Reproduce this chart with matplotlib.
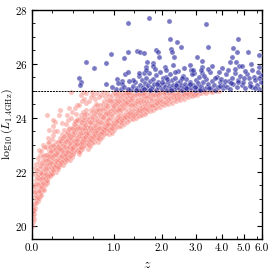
import numpy as np
import matplotlib
matplotlib.use('Agg')
import matplotlib.pyplot as plt
from matplotlib.ticker import MultipleLocator, FixedLocator

plt.rcParams['font.family'] = 'serif'
plt.rcParams['font.serif'] = ['cmr10']
plt.rcParams['mathtext.fontset'] = 'cm'
plt.rcParams['axes.formatter.use_mathtext'] = True

CUT = 25.0
Z_TICKS = [0, 1, 2, 3, 4, 5, 6]
Z_LABELS = ['0.0', '1.0', '2.0', '3.0', '4.0', '5.0', '6.0']

# sources below the luminosity cut (z, log10 L)
red = [
    (0.006, 19.98), (0.010, 20.15), (0.013, 20.35), (0.016, 20.55), (0.009, 20.7), (0.018, 20.25),
    (0.022, 20.45), (0.025, 20.8), (0.028, 21.05), (0.031, 20.65), (0.034, 21.3), (0.024, 21.5),
    (0.036, 21.7), (0.03, 21.9), (0.027, 22.15), (0.04, 22.3), (0.042, 20.95), (0.038, 21.15),
    (0.033, 21.45), (0.044, 21.8),
    (0.05, 21.0), (0.055, 21.2), (0.06, 20.9), (0.065, 21.4), (0.07, 21.6), (0.075, 21.3),
    (0.052, 21.75), (0.058, 21.9), (0.063, 22.1), (0.068, 22.35), (0.072, 21.85), (0.078, 22.6),
    (0.054, 22.5), (0.066, 22.8), (0.076, 21.1), (0.08, 21.5),
    (0.085, 21.25), (0.09, 21.45), (0.095, 21.65), (0.10, 21.35), (0.105, 21.8), (0.11, 21.55),
    (0.115, 21.95), (0.12, 21.7), (0.088, 22.0), (0.093, 22.2), (0.098, 22.45), (0.103, 22.1),
    (0.108, 22.3), (0.113, 22.6), (0.118, 22.15), (0.087, 22.75), (0.1, 23.0), (0.11, 22.9),
    (0.095, 21.9),
    (0.125, 21.5), (0.13, 21.7), (0.135, 21.6), (0.14, 21.85), (0.145, 21.75), (0.15, 22.0),
    (0.155, 21.9), (0.16, 22.1), (0.165, 21.95), (0.128, 22.2), (0.133, 22.4), (0.138, 22.55),
    (0.143, 22.3), (0.148, 22.65), (0.153, 22.5), (0.158, 22.8), (0.163, 22.35), (0.168, 22.7),
    (0.131, 22.9), (0.146, 23.05), (0.152, 23.25), (0.137, 24.1), (0.162, 23.1), (0.124, 22.05),
    (0.16, 23.55),
    (0.172, 21.85), (0.178, 22.0), (0.184, 21.95), (0.19, 22.15), (0.196, 22.05), (0.202, 22.25),
    (0.208, 22.1), (0.214, 22.35), (0.22, 22.2), (0.226, 22.45), (0.175, 22.4), (0.181, 22.6),
    (0.187, 22.5), (0.193, 22.75), (0.199, 22.65), (0.205, 22.9), (0.211, 22.8), (0.217, 23.0),
    (0.223, 22.6), (0.229, 23.1), (0.176, 22.95), (0.188, 23.2), (0.2, 23.35), (0.212, 23.5),
    (0.22, 23.85), (0.195, 23.7), (0.218, 22.45), (0.2, 23.9),
    (0.232, 22.0), (0.24, 22.15), (0.248, 22.1), (0.256, 22.3), (0.264, 22.2), (0.272, 22.4),
    (0.28, 22.3), (0.288, 22.5), (0.296, 22.35), (0.236, 22.45), (0.244, 22.6), (0.252, 22.75),
    (0.26, 22.55), (0.268, 22.85), (0.276, 22.7), (0.284, 22.95), (0.292, 22.8), (0.3, 23.05),
    (0.238, 22.9), (0.25, 23.1), (0.262, 23.0), (0.274, 23.25), (0.286, 23.15), (0.298, 23.4),
    (0.245, 23.5), (0.27, 24.3), (0.29, 23.8), (0.258, 24.1), (0.282, 22.6),
    (0.305, 22.25), (0.315, 22.4), (0.325, 22.35), (0.335, 22.5), (0.345, 22.45), (0.355, 22.6),
    (0.365, 22.5), (0.375, 22.7), (0.31, 22.65), (0.32, 22.8), (0.33, 22.7), (0.34, 22.95),
    (0.35, 22.85), (0.36, 23.05), (0.37, 22.9), (0.38, 23.15), (0.308, 23.0), (0.318, 23.2),
    (0.328, 23.1), (0.338, 23.35), (0.348, 23.25), (0.358, 23.45), (0.368, 23.3), (0.378, 23.6),
    (0.312, 23.55), (0.342, 23.75), (0.362, 23.9), (0.35, 24.1), (0.372, 24.35), (0.352, 22.55),
    (0.385, 22.45), (0.395, 22.6), (0.405, 22.55), (0.415, 22.7), (0.425, 22.65), (0.435, 22.8),
    (0.445, 22.75), (0.455, 22.9), (0.465, 22.8), (0.475, 23.0), (0.39, 22.85), (0.4, 23.0),
    (0.41, 22.95), (0.42, 23.15), (0.43, 23.05), (0.44, 23.25), (0.45, 23.15), (0.46, 23.35),
    (0.47, 23.25), (0.48, 23.45), (0.388, 23.3), (0.398, 23.5), (0.408, 23.4), (0.418, 23.6),
    (0.428, 23.55), (0.438, 23.75), (0.448, 23.65), (0.458, 23.85), (0.468, 23.7), (0.478, 23.95),
    (0.392, 24.0), (0.412, 24.2), (0.442, 24.35), (0.462, 24.15), (0.40, 24.95), (0.472, 24.45),
    (0.49, 22.65), (0.5, 22.8), (0.51, 22.75), (0.52, 22.9), (0.53, 22.85), (0.54, 23.0),
    (0.55, 22.9), (0.56, 23.1), (0.57, 23.0), (0.58, 23.2), (0.59, 23.1), (0.6, 23.25),
    (0.495, 23.05), (0.505, 23.2), (0.515, 23.15), (0.525, 23.35), (0.535, 23.3), (0.545, 23.45),
    (0.555, 23.4), (0.565, 23.55), (0.575, 23.5), (0.585, 23.65), (0.595, 23.6),
    (0.492, 23.5), (0.512, 23.7), (0.532, 23.8), (0.552, 23.75), (0.572, 23.9), (0.592, 24.0),
    (0.502, 23.95), (0.522, 24.1), (0.542, 24.2), (0.562, 24.15), (0.582, 24.3),
    (0.498, 24.45), (0.528, 24.6), (0.558, 24.7), (0.588, 24.55), (0.518, 24.85), (0.548, 24.95),
    (0.578, 24.9),
    (0.61, 22.85), (0.625, 23.0), (0.64, 22.95), (0.655, 23.1), (0.67, 23.05), (0.685, 23.2),
    (0.7, 23.1), (0.715, 23.3), (0.73, 23.2), (0.745, 23.35),
    (0.615, 23.2), (0.63, 23.35), (0.645, 23.3), (0.66, 23.5), (0.675, 23.45), (0.69, 23.6),
    (0.705, 23.5), (0.72, 23.7), (0.735, 23.6), (0.75, 23.8),
    (0.612, 23.55), (0.627, 23.7), (0.642, 23.65), (0.657, 23.85), (0.672, 23.8), (0.687, 24.0),
    (0.702, 23.9), (0.717, 24.1), (0.732, 24.0), (0.747, 24.2),
    (0.618, 23.95), (0.638, 24.15), (0.658, 24.3), (0.678, 24.25), (0.698, 24.4), (0.718, 24.5),
    (0.738, 24.45), (0.622, 24.6), (0.652, 24.75), (0.682, 24.85), (0.712, 24.7), (0.742, 24.9),
    (0.668, 24.95),
    (0.76, 23.1), (0.775, 23.25), (0.79, 23.2), (0.805, 23.35), (0.82, 23.3), (0.835, 23.45),
    (0.85, 23.4), (0.865, 23.55), (0.88, 23.45), (0.895, 23.6), (0.91, 23.55),
    (0.765, 23.45), (0.78, 23.6), (0.795, 23.55), (0.81, 23.7), (0.825, 23.65), (0.84, 23.8),
    (0.855, 23.75), (0.87, 23.9), (0.885, 23.85), (0.9, 24.0), (0.915, 23.9),
    (0.762, 23.8), (0.782, 23.95), (0.802, 24.05), (0.822, 24.0), (0.842, 24.15), (0.862, 24.1),
    (0.882, 24.25), (0.902, 24.2),
    (0.77, 24.3), (0.79, 24.45), (0.81, 24.35), (0.83, 24.5), (0.85, 24.6), (0.87, 24.45),
    (0.89, 24.65), (0.91, 24.55),
    (0.768, 24.75), (0.798, 24.85), (0.828, 24.95), (0.858, 24.8), (0.888, 24.9), (0.918, 24.8),
    (0.93, 23.4), (0.95, 23.5), (0.97, 23.45), (0.99, 23.6), (1.01, 23.55), (1.03, 23.7),
    (1.05, 23.65), (1.07, 23.8), (1.09, 23.7), (1.11, 23.85),
    (0.935, 23.7), (0.955, 23.8), (0.975, 23.75), (0.995, 23.9), (1.015, 23.85), (1.035, 24.0),
    (1.055, 23.95), (1.075, 24.1), (1.095, 24.05), (1.115, 24.2),
    (0.94, 24.0), (0.96, 24.15), (0.98, 24.1), (1.0, 24.25), (1.02, 24.2), (1.04, 24.35),
    (1.06, 24.3), (1.08, 24.45), (1.1, 24.4), (1.12, 24.55),
    (0.945, 24.35), (0.965, 24.5), (0.985, 24.45), (1.005, 24.6), (1.025, 24.55), (1.045, 24.7),
    (1.065, 24.65), (1.085, 24.8), (1.105, 24.75),
    (0.95, 24.7), (0.975, 24.85), (1.0, 24.95), (1.03, 24.9), (1.06, 24.95), (1.09, 24.9),
    (1.13, 23.7), (1.155, 23.8), (1.18, 23.75), (1.205, 23.9), (1.23, 23.85), (1.255, 24.0),
    (1.28, 23.9), (1.305, 24.05), (1.33, 24.0),
    (1.14, 24.0), (1.165, 24.1), (1.19, 24.05), (1.215, 24.2), (1.24, 24.15), (1.265, 24.3),
    (1.29, 24.2), (1.315, 24.35), (1.34, 24.25),
    (1.135, 24.3), (1.16, 24.4), (1.185, 24.35), (1.21, 24.5), (1.235, 24.45), (1.26, 24.6),
    (1.285, 24.5), (1.31, 24.65), (1.335, 24.55),
    (1.145, 24.6), (1.17, 24.7), (1.195, 24.65), (1.22, 24.8), (1.245, 24.75), (1.27, 24.85),
    (1.295, 24.8), (1.32, 24.9), (1.345, 24.85),
    (1.15, 24.9), (1.2, 24.95), (1.25, 24.98), (1.3, 24.95),
    (1.36, 23.95), (1.39, 24.05), (1.42, 24.0), (1.45, 24.1), (1.48, 24.05), (1.51, 24.15),
    (1.54, 24.1), (1.57, 24.2), (1.6, 24.15),
    (1.37, 24.25), (1.4, 24.35), (1.43, 24.3), (1.46, 24.4), (1.49, 24.35), (1.52, 24.45),
    (1.55, 24.4), (1.58, 24.5), (1.61, 24.45),
    (1.375, 24.55), (1.405, 24.65), (1.435, 24.6), (1.465, 24.7), (1.495, 24.65), (1.525, 24.75),
    (1.555, 24.7), (1.585, 24.8), (1.615, 24.75),
    (1.38, 24.85), (1.41, 24.95), (1.44, 24.9), (1.47, 24.97), (1.5, 24.9), (1.53, 24.98),
    (1.56, 24.92), (1.59, 24.97),
    (1.63, 24.2), (1.67, 24.3), (1.71, 24.25), (1.75, 24.35), (1.79, 24.3), (1.83, 24.4),
    (1.87, 24.35), (1.91, 24.45),
    (1.65, 24.5), (1.69, 24.6), (1.73, 24.55), (1.77, 24.65), (1.81, 24.6), (1.85, 24.7),
    (1.89, 24.65), (1.93, 24.75),
    (1.64, 24.8), (1.68, 24.9), (1.72, 24.85), (1.76, 24.95), (1.8, 24.88), (1.84, 24.97),
    (1.88, 24.9), (1.92, 24.98), (1.95, 24.55),
    (1.97, 24.4), (2.02, 24.5), (2.07, 24.45), (2.12, 24.55), (2.17, 24.5), (2.22, 24.6),
    (2.27, 24.55), (2.32, 24.65),
    (1.99, 24.7), (2.04, 24.8), (2.09, 24.75), (2.14, 24.85), (2.19, 24.8), (2.24, 24.9),
    (2.29, 24.85), (2.34, 24.92),
    (2.0, 24.95), (2.06, 24.98), (2.12, 24.93), (2.18, 24.97), (2.25, 24.96), (2.31, 24.99),
    (2.38, 24.6), (2.44, 24.7), (2.5, 24.65), (2.56, 24.75), (2.62, 24.7), (2.68, 24.8),
    (2.74, 24.75), (2.8, 24.82),
    (2.4, 24.85), (2.47, 24.92), (2.54, 24.88), (2.61, 24.95), (2.68, 24.9), (2.75, 24.97),
    (2.82, 24.93), (2.45, 24.98), (2.6, 24.99),
    (2.88, 24.8), (2.96, 24.88), (3.04, 24.85), (3.12, 24.92), (3.2, 24.9), (3.28, 24.95),
    (3.36, 24.93), (3.45, 24.97), (3.55, 24.98), (2.92, 24.96), (3.08, 24.98), (3.3, 24.99),
    (3.6, 24.96), (3.75, 24.98), (3.85, 24.99),
]

red_more = [
    (0.021, 20.6), (0.029, 21.25), (0.035, 20.85), (0.041, 21.55), (0.046, 21.05), (0.048, 22.05),
    (0.057, 21.55), (0.061, 21.27), (0.067, 21.03), (0.071, 22.22), (0.074, 21.72), (0.079, 21.97),
    (0.083, 21.42), (0.086, 21.13), (0.091, 21.77), (0.097, 22.33), (0.102, 21.58), (0.106, 22.58),
    (0.112, 21.33), (0.117, 22.42), (0.119, 21.88),
    (0.123, 21.77), (0.127, 22.63), (0.134, 21.93), (0.139, 22.13), (0.142, 21.67), (0.147, 22.43),
    (0.151, 21.83), (0.156, 22.27), (0.161, 22.57), (0.166, 21.87), (0.169, 22.93), (0.174, 22.17),
    (0.179, 22.77), (0.183, 22.33), (0.186, 21.92), (0.191, 22.53), (0.197, 22.97), (0.203, 22.07),
    (0.207, 22.63), (0.213, 22.17), (0.219, 22.83), (0.224, 22.27), (0.228, 22.67),
    (0.234, 22.23), (0.239, 22.73), (0.243, 22.37), (0.249, 22.93), (0.254, 22.17), (0.259, 22.83),
    (0.263, 22.43), (0.269, 22.27), (0.273, 23.13), (0.278, 22.53), (0.283, 22.37), (0.287, 22.83),
    (0.293, 22.57), (0.297, 23.23), (0.302, 22.43), (0.307, 22.73), (0.313, 22.53), (0.317, 23.33),
    (0.322, 22.63), (0.327, 22.93), (0.333, 22.47), (0.337, 23.13), (0.343, 22.67), (0.347, 23.47),
    (0.353, 22.77), (0.357, 23.17), (0.363, 22.73), (0.367, 23.57), (0.373, 22.93), (0.377, 23.37),
    (0.383, 22.57), (0.387, 23.07), (0.393, 22.73), (0.397, 23.23), (0.403, 22.87), (0.407, 23.63),
    (0.413, 22.83), (0.417, 23.37), (0.423, 22.93), (0.427, 23.77), (0.433, 23.13), (0.437, 23.47),
    (0.443, 22.97), (0.447, 23.87), (0.453, 23.07), (0.457, 23.57), (0.463, 23.03), (0.467, 23.93),
    (0.473, 23.17), (0.477, 23.63), (0.487, 22.83), (0.493, 23.33), (0.497, 22.73), (0.503, 23.63),
    (0.507, 23.03), (0.513, 23.43), (0.517, 22.93), (0.523, 23.83), (0.527, 23.13), (0.533, 23.57),
    (0.537, 23.07), (0.543, 23.93), (0.547, 23.23), (0.553, 23.63), (0.557, 23.17), (0.563, 24.03),
    (0.567, 23.33), (0.573, 23.73), (0.577, 23.27), (0.583, 24.13), (0.587, 23.43), (0.593, 23.83),
    (0.597, 23.37),
    (0.607, 23.03), (0.617, 23.43), (0.623, 23.13), (0.633, 23.83), (0.637, 23.23), (0.647, 23.53),
    (0.653, 23.17), (0.663, 24.03), (0.667, 23.33), (0.677, 23.63), (0.683, 23.27), (0.693, 24.13),
    (0.697, 23.43), (0.707, 23.73), (0.713, 23.37), (0.723, 24.23), (0.727, 23.53), (0.737, 23.87),
    (0.743, 23.47), (0.753, 24.33), (0.757, 23.23), (0.767, 23.63), (0.773, 23.37), (0.787, 24.13),
    (0.793, 23.43), (0.803, 23.83), (0.813, 23.47), (0.817, 24.27), (0.827, 23.57), (0.833, 24.03),
    (0.847, 23.53), (0.853, 24.37), (0.863, 23.67), (0.873, 24.17), (0.877, 23.63), (0.893, 24.43),
    (0.897, 23.73), (0.907, 24.13), (0.913, 23.77), (0.917, 24.67),
    (0.927, 23.53), (0.943, 24.23), (0.953, 23.63), (0.963, 24.63), (0.973, 23.63), (0.983, 24.33),
    (0.993, 23.73), (1.013, 24.43), (1.023, 23.77), (1.033, 24.83), (1.043, 23.83), (1.053, 24.53),
    (1.063, 23.87), (1.073, 24.27), (1.083, 23.93), (1.093, 24.63), (1.103, 23.97), (1.113, 24.33),
    (1.127, 23.83), (1.143, 24.47), (1.153, 23.93), (1.167, 24.83), (1.177, 23.97), (1.193, 24.53),
    (1.203, 24.07), (1.217, 24.93), (1.227, 24.03), (1.243, 24.57), (1.253, 24.13), (1.267, 24.93),
    (1.277, 24.07), (1.293, 24.67), (1.303, 24.17), (1.317, 24.47), (1.327, 24.13), (1.343, 24.73),
    (1.353, 24.07), (1.383, 24.47), (1.397, 24.13), (1.413, 24.83), (1.427, 24.17), (1.443, 24.53),
    (1.457, 24.23), (1.473, 24.87), (1.487, 24.27), (1.503, 24.57), (1.517, 24.23), (1.533, 24.87),
    (1.547, 24.33), (1.563, 24.63), (1.577, 24.33), (1.593, 24.93), (1.607, 24.37), (1.623, 24.63),
    (1.653, 24.33), (1.673, 24.77), (1.693, 24.43), (1.713, 24.93), (1.733, 24.43), (1.753, 24.73),
    (1.773, 24.47), (1.793, 24.83), (1.813, 24.47), (1.833, 24.83), (1.853, 24.53), (1.873, 24.93),
    (1.893, 24.53), (1.913, 24.83), (1.933, 24.63), (1.963, 24.93),
    (2.013, 24.63), (2.053, 24.93), (2.083, 24.57), (2.113, 24.73), (2.153, 24.67), (2.193, 24.93),
    (2.233, 24.73), (2.273, 24.93), (2.313, 24.77), (2.353, 24.83), (2.393, 24.73), (2.433, 24.87),
    (2.483, 24.77), (2.533, 24.97), (2.583, 24.83), (2.633, 24.87), (2.693, 24.93), (2.753, 24.87),
    (2.813, 24.97), (2.873, 24.9), (2.933, 24.85), (2.993, 24.93),
]

# sources above the cut
blue = [
    (1.26, 27.50), (1.70, 27.70), (2.20, 27.56), (3.36, 27.47), (2.21, 26.91), (2.41, 26.80),
    (2.52, 26.63), (4.70, 26.91), (3.45, 26.63), (0.95, 26.37), (1.26, 26.41), (1.19, 26.22),
    (1.43, 26.45), (1.50, 26.42), (1.58, 26.40), (2.24, 26.53), (2.28, 26.42), (1.86, 26.51),
    (1.91, 26.41), (1.93, 26.26), (2.33, 26.26), (3.03, 26.26), (4.50, 26.57), (4.68, 26.41),
    (5.21, 26.41), (5.84, 26.30), (0.585, 26.04), (0.87, 26.01), (0.69, 25.85), (1.65, 26.07),
    (1.79, 26.01), (3.22, 26.11), (4.43, 26.26), (4.36, 26.05), (4.63, 26.07), (5.40, 25.99),
    (1.62, 25.87), (1.79, 25.91), (2.08, 25.89), (2.31, 25.95), (2.81, 25.95), (2.83, 25.77),
    (3.21, 25.87), (3.60, 25.91), (4.78, 25.91), (4.90, 25.91), (5.80, 25.87), (3.98, 25.83),
    (1.58, 25.64), (2.93, 25.64), (3.21, 25.64), (1.21, 25.62), (1.26, 25.67), (0.49, 25.46),
    (0.52, 25.30), (0.50, 25.21), (1.05, 25.43), (1.15, 25.36), (0.87, 25.25), (1.15, 25.24),
    (1.04, 25.07), (1.13, 25.07),
    (1.32, 25.05), (1.36, 25.18), (1.40, 25.32), (1.44, 25.10), (1.47, 25.55), (1.50, 25.22),
    (1.53, 25.04), (1.55, 25.40), (1.57, 25.13), (1.60, 25.28), (1.63, 25.48), (1.66, 25.08),
    (1.68, 25.20), (1.70, 25.65), (1.72, 25.35), (1.75, 25.06), (1.77, 25.15), (1.80, 25.42),
    (1.82, 25.26), (1.85, 25.03), (1.87, 25.58), (1.90, 25.12), (1.92, 25.33), (1.95, 25.20),
    (1.97, 25.70), (2.00, 25.07), (2.03, 25.45), (2.05, 25.25), (2.08, 25.14), (2.10, 25.52),
    (2.13, 25.04), (2.16, 25.30), (2.18, 25.18), (2.21, 25.62), (2.24, 25.09), (2.27, 25.38),
    (2.30, 25.22), (2.33, 25.05), (2.36, 25.48), (2.39, 25.14), (2.42, 25.28), (2.45, 25.72),
    (2.48, 25.08), (2.51, 25.35), (2.54, 25.19), (2.57, 25.03), (2.60, 25.55), (2.63, 25.12),
    (2.66, 25.26), (2.70, 25.42), (2.73, 25.06), (2.76, 25.17), (2.80, 25.33), (2.84, 25.09),
    (2.88, 25.60), (2.92, 25.21), (2.96, 25.04), (3.00, 25.38), (3.04, 25.13), (3.08, 25.27),
    (3.12, 25.50), (3.16, 25.07), (3.20, 25.18), (3.25, 25.32), (3.30, 25.05), (3.35, 25.44),
    (3.40, 25.15), (3.45, 25.25), (3.50, 25.68), (3.55, 25.08), (3.60, 25.36), (3.66, 25.20),
    (3.72, 25.04), (3.78, 25.52), (3.84, 25.12), (3.90, 25.30), (3.96, 25.42), (4.02, 25.08),
    (4.08, 25.22), (4.15, 25.60), (4.22, 25.15), (4.29, 25.35), (4.36, 25.05), (4.43, 25.48),
    (4.50, 25.25), (4.58, 25.65), (4.66, 25.12), (4.74, 25.40), (4.82, 25.55), (4.90, 25.20),
    (4.98, 25.32), (5.07, 25.08), (5.16, 25.62), (5.25, 25.45), (5.34, 25.28), (5.43, 25.15),
    (5.52, 25.52), (5.62, 25.38), (5.72, 25.22), (5.82, 25.05), (5.92, 25.58), (5.95, 25.30),
    (1.42, 25.02), (1.58, 25.06), (1.73, 25.02), (1.88, 25.25), (2.02, 25.32), (2.15, 25.42),
    (2.26, 25.02), (2.40, 25.20), (2.55, 25.45), (2.68, 25.10), (2.82, 25.25), (2.98, 25.15),
    (3.14, 25.02), (3.28, 25.55), (3.48, 25.10), (3.70, 25.45), (3.92, 25.18), (4.12, 25.35),
    (4.40, 25.28), (4.70, 25.30), (5.00, 25.48), (5.30, 25.18), (5.60, 25.10), (5.85, 25.45),
    (1.35, 25.40), (1.48, 25.65), (1.62, 25.78), (1.83, 25.80), (2.12, 25.75), (2.35, 25.68),
    (2.62, 25.82), (2.90, 25.75), (3.18, 25.78), (3.42, 25.80), (3.85, 25.70), (4.25, 25.75),
    (4.55, 25.80), (5.05, 25.72), (5.45, 25.78), (5.75, 25.70), (0.98, 25.12), (1.08, 25.28),
    (1.18, 25.15), (1.25, 25.05), (1.28, 25.35),
]

red_all = red + red_more
red_z = np.array([p[0] for p in red_all])
red_logL = np.array([p[1] for p in red_all])
blue_z = np.array([p[0] for p in blue])
blue_logL = np.array([p[1] for p in blue])


def zaxis(z):
    return np.log10(1 + np.asarray(z))


fig = plt.figure(figsize=(2.73, 2.73), dpi=100)
ax = fig.add_axes([0.1154, 0.1234, 0.8443, 0.8418])

ax.scatter(zaxis(red_z), red_logL, s=14, color='#f77b72', alpha=0.45,
           edgecolor='white', linewidth=0.4, zorder=2)
ax.scatter(zaxis(blue_z), blue_logL, s=14, color='#1f1f9c', alpha=0.6,
           edgecolor='white', linewidth=0.4, zorder=3)
ax.axhline(CUT, color='black', lw=0.7, ls=(0, (2, 1)), zorder=4)

ax.set_xlim(0, np.log10(7))
ax.set_ylim(19.5, 28)
ax.xaxis.set_major_locator(FixedLocator(zaxis(Z_TICKS)))
ax.set_xticklabels(Z_LABELS)
ax.xaxis.set_minor_locator(MultipleLocator(np.log10(2) / 4))
ax.yaxis.set_major_locator(MultipleLocator(2))
ax.yaxis.set_minor_locator(MultipleLocator(0.5))
ax.tick_params(which='both', direction='in', top=True, right=True, labelsize=8, pad=3)
ax.tick_params(which='major', length=3.5, width=0.8)
ax.tick_params(which='minor', length=2, width=0.6)
for s in ax.spines.values():
    s.set_linewidth(1.0)

ax.set_xlabel(r'$z$', fontsize=10, labelpad=4)
ax.set_ylabel(r'$\log_{10}(L_{1.4\mathrm{GHz}})$', fontsize=8.5)
ax.yaxis.set_label_coords(-0.073, 0.5)

fig.savefig('out.png', dpi=100)
